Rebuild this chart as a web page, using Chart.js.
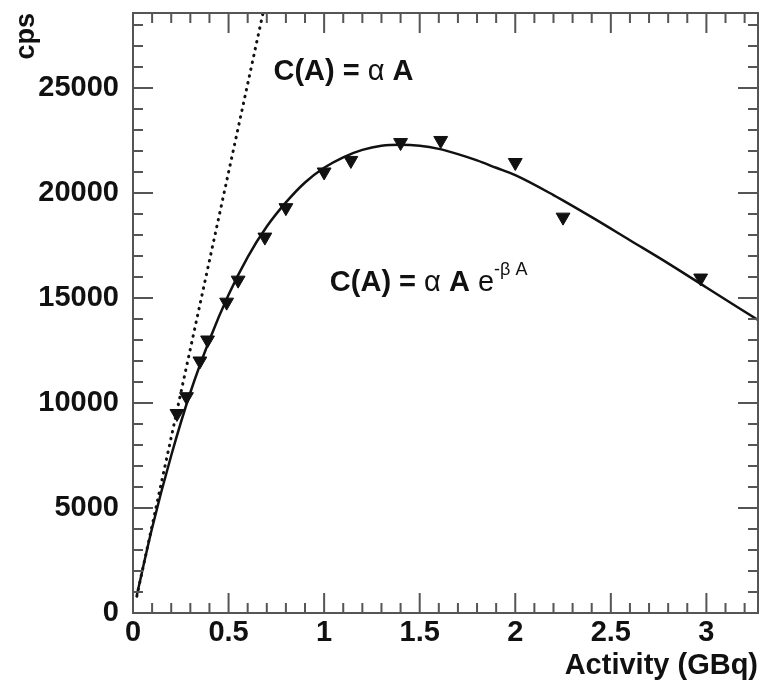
<!DOCTYPE html>
<html>
<head>
<meta charset="utf-8">
<script src="https://cdn.jsdelivr.net/npm/chart.js@4/dist/chart.umd.min.js"></script>
<style>
  body { margin: 0; background: #fff; }
  #wrap { width: 767px; height: 683px; }
</style>
</head>
<body>
<div id="wrap"><canvas id="chart" width="767" height="683"></canvas></div>
<script>
// measured points: activity (GBq) and counts per second
var activity = [0.23, 0.28, 0.35, 0.39, 0.49, 0.55, 0.69, 0.80, 1.00, 1.14, 1.40, 1.61, 2.00, 2.25, 2.97];
var cps = [9500, 10300, 12000, 13000, 14800, 15850, 17900, 19300, 21000, 21550, 22400, 22500, 21450, 18850, 15950];

// fitted curve C(A) = alpha A e^(-beta A)
var fitA = [0.02, 0.1, 0.2, 0.3, 0.4, 0.5, 0.6, 0.7, 0.8, 0.9, 1.0, 1.1, 1.2, 1.3, 1.4, 1.5, 1.6, 1.7, 1.8, 1.9, 2.0, 2.2, 2.4, 2.6, 2.8, 3.0, 3.27];
var fitC = [850, 4050, 7500, 10500, 13000, 15150, 16950, 18400, 19550, 20500, 21200, 21700, 22050, 22250, 22300, 22250, 22100, 21850, 21550, 21200, 20850, 19900, 18850, 17750, 16650, 15500, 13950];

// linear C(A) = alpha A (dotted)
var linA = [0.02, 0.70];
var linC = [800, 29400];

var xTicks = [0, 0.5, 1, 1.5, 2, 2.5, 3];
var yTicks = [0, 5000, 10000, 15000, 20000, 25000];
var xMax = 3.27, yMax = 28570;

function pts(xs, ys) {
  return xs.map(function(v, i) { return { x: v, y: ys[i] }; });
}

var fam = '"Liberation Sans", Arial, sans-serif';

// frame with inward ticks on all four sides, ROOT style
var frameTicks = {
  id: 'frameTicks',
  afterDatasetsDraw: function(chart) {
    var ctx = chart.ctx, a = chart.chartArea;
    var sx = chart.scales.x, sy = chart.scales.y;
    ctx.save();
    ctx.strokeStyle = '#555';
    ctx.lineWidth = 2;
    ctx.strokeRect(a.left, a.top, a.right - a.left, a.bottom - a.top);
    ctx.beginPath();
    for (var i = 1; i * 0.1 < xMax; i++) {
      var px = sx.getPixelForValue(i * 0.1);
      var len = (i % 5 === 0) ? 20 : 10;
      ctx.moveTo(px, a.bottom); ctx.lineTo(px, a.bottom - len);
      ctx.moveTo(px, a.top); ctx.lineTo(px, a.top + len);
    }
    for (var j = 1; j * 1000 < yMax; j++) {
      var py = sy.getPixelForValue(j * 1000);
      var l2 = (j % 5 === 0) ? 20 : 10;
      ctx.moveTo(a.left, py); ctx.lineTo(a.left + l2, py);
      ctx.moveTo(a.right, py); ctx.lineTo(a.right - l2, py);
    }
    ctx.stroke();
    ctx.restore();
  }
};

// formula labels
function drawParts(ctx, x, y, parts) {
  parts.forEach(function(p) {
    ctx.font = p.font;
    ctx.fillText(p.text, x, y + (p.dy || 0));
    x += ctx.measureText(p.text).width;
  });
}

var formulas = {
  id: 'formulas',
  afterDraw: function(chart) {
    var ctx = chart.ctx, sx = chart.scales.x, sy = chart.scales.y;
    var b = 'bold 29px ' + fam;
    var r = '29px ' + fam;
    var s = '18px ' + fam;
    ctx.save();
    ctx.fillStyle = '#111';
    ctx.textBaseline = 'alphabetic';
    drawParts(ctx, sx.getPixelForValue(0.735), sy.getPixelForValue(25400), [
      { text: 'C(A) = ', font: b }, { text: 'α', font: r }, { text: ' A', font: b }
    ]);
    drawParts(ctx, sx.getPixelForValue(1.03), sy.getPixelForValue(15350), [
      { text: 'C(A) = ', font: b }, { text: 'α', font: r }, { text: ' A ', font: b },
      { text: 'e', font: r }, { text: '-β A', font: s, dy: -16 }
    ]);
    ctx.restore();
  }
};

new Chart(document.getElementById('chart').getContext('2d'), {
  type: 'scatter',
  data: {
    datasets: [
      {
        label: 'fit',
        data: pts(fitA, fitC),
        showLine: true,
        borderColor: '#111',
        borderWidth: 2.5,
        pointRadius: 0,
        cubicInterpolationMode: 'monotone'
      },
      {
        label: 'linear',
        data: pts(linA, linC),
        showLine: true,
        borderColor: '#111',
        borderWidth: 3,
        borderDash: [0.5, 6.5],
        borderCapStyle: 'round',
        pointRadius: 0
      },
      {
        label: 'data',
        data: pts(activity, cps),
        pointStyle: 'triangle',
        rotation: 180,
        pointRadius: 8,
        backgroundColor: '#111',
        borderColor: '#111',
        borderWidth: 1
      }
    ]
  },
  options: {
    responsive: false,
    animation: false,
    layout: { padding: { top: 13, right: 4, left: 0, bottom: 0 } },
    plugins: { legend: { display: false }, tooltip: { enabled: false } },
    scales: {
      x: {
        type: 'linear',
        min: 0,
        max: xMax,
        grid: { display: false },
        border: { display: false },
        afterBuildTicks: function(scale) {
          scale.ticks = xTicks.map(function(v) { return { value: v }; });
        },
        afterFit: function(scale) {
          scale.height = 70;
          scale.paddingLeft = 0;
          scale.paddingRight = 0;
        },
        ticks: {
          color: '#111',
          padding: -5,
          maxRotation: 0,
          autoSkip: false,
          font: { family: fam, size: 29, weight: 'bold' },
          callback: function(v) { return String(v); }
        },
        title: {
          display: true,
          text: 'Activity (GBq)',
          align: 'end',
          color: '#111',
          padding: { top: 0, bottom: 0 },
          font: { family: fam, size: 29, weight: 'bold' }
        }
      },
      y: {
        type: 'linear',
        min: 0,
        max: yMax,
        grid: { display: false },
        border: { display: false },
        afterBuildTicks: function(scale) {
          scale.ticks = yTicks.map(function(v) { return { value: v }; });
        },
        afterFit: function(scale) {
          scale.width = 133;
          scale.paddingTop = 0;
          scale.paddingBottom = 0;
        },
        ticks: {
          color: '#111',
          padding: 6,
          autoSkip: false,
          font: { family: fam, size: 29, weight: 'bold' },
          callback: function(v) { return String(v); }
        },
        title: {
          display: true,
          text: 'cps',
          align: 'end',
          color: '#111',
          padding: { top: 10, bottom: 0 },
          font: { family: fam, size: 27, weight: 'bold' }
        }
      }
    }
  },
  plugins: [frameTicks, formulas]
});
</script>
</body>
</html>
